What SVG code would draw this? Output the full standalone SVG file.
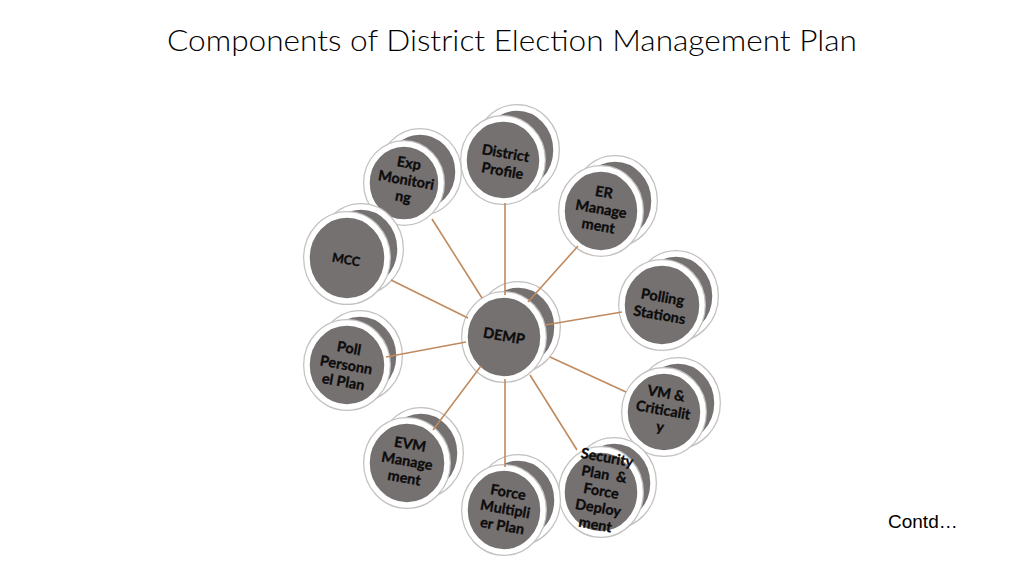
<svg xmlns="http://www.w3.org/2000/svg" width="1024" height="576" viewBox="0 0 1024 576">
<defs>
<style>
.halo{fill:#767171;stroke:#c4c1c1;stroke-width:8}
.disc{fill:#767171;stroke:#ffffff;stroke-width:5.5}
.lbl{font-family:Lato,"Open Sans","Liberation Sans",sans-serif;font-weight:700;font-size:14.5px;fill:#0c0c0c;stroke:#0c0c0c;stroke-width:0.35;text-anchor:middle}
.conn line{stroke:#c08a5f;stroke-width:1.6}
.title{font-family:Lato,"Open Sans","Liberation Sans",sans-serif;font-weight:300;font-size:29px;fill:#000}
</style>
</defs>
<rect width="1024" height="576" fill="#ffffff"/>
<text class="title" x="167" y="51" textLength="690" lengthAdjust="spacingAndGlyphs">Components of District Election Management Plan</text>

<g id="node-district-profile">
<ellipse class="halo" cx="517" cy="150" rx="39" ry="42"/><ellipse class="disc" cx="517" cy="150" rx="39" ry="42"/>
<ellipse class="halo" cx="503" cy="160" rx="39" ry="41"/><ellipse class="disc" cx="503" cy="160" rx="39" ry="41"/>
<text class="lbl" transform="translate(504,162) rotate(10)"><tspan x="0" y="-4">District</tspan><tspan x="0" y="14">Profile</tspan></text>
</g>

<g id="node-exp-monitoring">
<ellipse class="halo" cx="420" cy="172" rx="38" ry="40"/><ellipse class="disc" cx="420" cy="172" rx="38" ry="40"/>
<ellipse class="halo" cx="404" cy="183" rx="37" ry="39"/><ellipse class="disc" cx="404" cy="183" rx="37" ry="39"/>
<text class="lbl" transform="translate(406,181) rotate(10)"><tspan x="0" y="-13">Exp</tspan><tspan x="0" y="4">Monitori</tspan><tspan x="0" y="21">ng</tspan></text>
</g>

<g id="node-er-management">
<ellipse class="halo" cx="615" cy="201" rx="39" ry="42"/><ellipse class="disc" cx="615" cy="201" rx="39" ry="42"/>
<ellipse class="halo" cx="601" cy="211" rx="39" ry="42"/><ellipse class="disc" cx="601" cy="211" rx="39" ry="42"/>
<text class="lbl" transform="translate(601,210) rotate(10)"><tspan x="0" y="-13">ER</tspan><tspan x="0" y="4">Manage</tspan><tspan x="0" y="21">ment</tspan></text>
</g>

<g id="node-polling-stations">
<ellipse class="halo" cx="676" cy="296" rx="39" ry="42"/><ellipse class="disc" cx="676" cy="296" rx="39" ry="42"/>
<ellipse class="halo" cx="662" cy="305" rx="40" ry="42"/><ellipse class="disc" cx="662" cy="305" rx="40" ry="42"/>
<text class="lbl" transform="translate(661,306) rotate(10)"><tspan x="0" y="-4">Polling</tspan><tspan x="0" y="14">Stations</tspan></text>
</g>

<g id="node-mcc">
<ellipse class="halo" cx="361" cy="249" rx="39" ry="42"/><ellipse class="disc" cx="361" cy="249" rx="39" ry="42"/>
<ellipse class="halo" cx="347" cy="258" rx="40" ry="43"/><ellipse class="disc" cx="347" cy="258" rx="40" ry="43"/>
<text class="lbl" style="font-size:12.5px" transform="translate(346,260) rotate(10)"><tspan x="0" y="4">MCC</tspan></text>
</g>

<g id="node-poll-personnel-plan">
<ellipse class="halo" cx="360" cy="356" rx="39" ry="42"/><ellipse class="disc" cx="360" cy="356" rx="39" ry="42"/>
<ellipse class="halo" cx="347" cy="365" rx="40" ry="42"/><ellipse class="disc" cx="347" cy="365" rx="40" ry="42"/>
<text class="lbl" transform="translate(346,366) rotate(10)"><tspan x="0" y="-13">Poll</tspan><tspan x="0" y="4">Personn</tspan><tspan x="0" y="21">el Plan</tspan></text>
</g>

<g id="node-evm-management">
<ellipse class="halo" cx="421" cy="453" rx="39" ry="42"/><ellipse class="disc" cx="421" cy="453" rx="39" ry="42"/>
<ellipse class="halo" cx="407" cy="463" rx="40" ry="42"/><ellipse class="disc" cx="407" cy="463" rx="40" ry="42"/>
<text class="lbl" transform="translate(407,462) rotate(10)"><tspan x="0" y="-13">EVM</tspan><tspan x="0" y="4">Manage</tspan><tspan x="0" y="21">ment</tspan></text>
</g>

<g id="node-vm-criticality">
<ellipse class="halo" cx="678" cy="403" rx="39" ry="42"/><ellipse class="disc" cx="678" cy="403" rx="39" ry="42"/>
<ellipse class="halo" cx="664" cy="412" rx="39" ry="41"/><ellipse class="disc" cx="664" cy="412" rx="39" ry="41"/>
<text class="lbl" transform="translate(663,411) rotate(10)"><tspan x="0" y="-13">VM &amp;</tspan><tspan x="0" y="4">Criticalit</tspan><tspan x="0" y="21">y</tspan></text>
</g>

<g id="node-security-plan">
<ellipse class="halo" cx="614" cy="483" rx="39" ry="42"/><ellipse class="disc" cx="614" cy="483" rx="39" ry="42"/>
<ellipse class="halo" cx="601" cy="492" rx="39" ry="42"/><ellipse class="disc" cx="601" cy="492" rx="39" ry="42"/>
<text class="lbl" transform="translate(601,492) rotate(10)"><tspan x="0" y="-30">Security</tspan><tspan x="0" y="-13">Plan&#160; &amp;</tspan><tspan x="0" y="4">Force</tspan><tspan x="0" y="21">Deploy</tspan><tspan x="0" y="38">ment</tspan></text>
</g>

<g id="node-force-multiplier">
<ellipse class="halo" cx="518" cy="500" rx="39" ry="42"/><ellipse class="disc" cx="518" cy="500" rx="39" ry="42"/>
<ellipse class="halo" cx="504" cy="510" rx="39" ry="42"/><ellipse class="disc" cx="504" cy="510" rx="39" ry="42"/>
<text class="lbl" transform="translate(505,510) rotate(10)"><tspan x="0" y="-13">Force</tspan><tspan x="0" y="4">Multipli</tspan><tspan x="0" y="21">er Plan</tspan></text>
</g>

<g id="node-demp">
<ellipse class="halo" cx="518" cy="327" rx="39" ry="42"/><ellipse class="disc" cx="518" cy="327" rx="39" ry="42"/>
<ellipse class="halo" cx="504" cy="337" rx="39" ry="42"/><ellipse class="disc" cx="504" cy="337" rx="39" ry="42"/>
<text class="lbl" transform="translate(504,336) rotate(10)"><tspan x="0" y="5">DEMP</tspan></text>
</g>

<g id="connectors" class="conn">
<line x1="505" y1="295" x2="505" y2="203"/>
<line x1="482" y1="298" x2="432" y2="219"/>
<line x1="528" y1="302" x2="578" y2="246"/>
<line x1="545" y1="325" x2="622" y2="312"/>
<line x1="468" y1="318" x2="391" y2="280"/>
<line x1="466" y1="342" x2="386" y2="357"/>
<line x1="481" y1="366" x2="433" y2="430"/>
<line x1="505" y1="379" x2="505" y2="467"/>
<line x1="530" y1="375" x2="577" y2="450"/>
<line x1="550" y1="357" x2="626" y2="392"/>
</g>

<text x="888" y="528" font-family="Liberation Sans, Arial, sans-serif" font-size="19" fill="#000">Contd…</text>
</svg>
